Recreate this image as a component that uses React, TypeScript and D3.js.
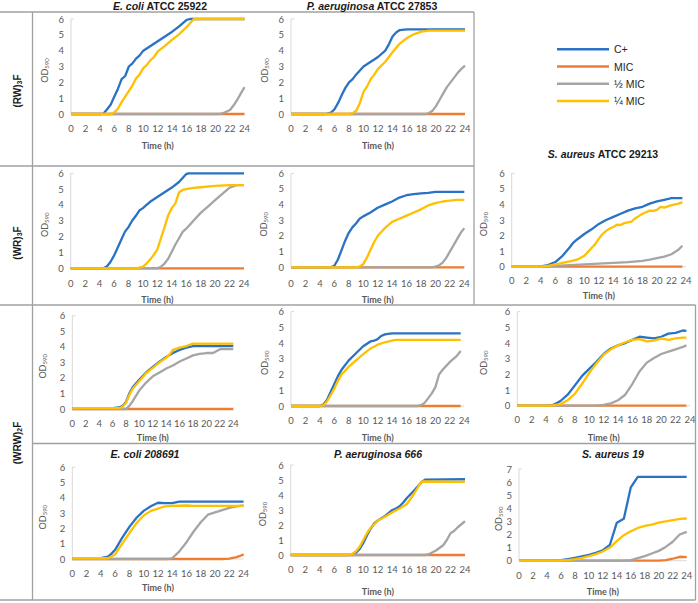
import React, { useRef, useEffect } from "react";
import * as d3 from "d3";

type Pt = [number, number];

const seriesNames = ["C+", "MIC", "½ MIC", "¼ MIC"];
const seriesColors = ["#2a72c4", "#ED7D31", "#A5A5A5", "#FFC000"];
const hourTicks = [0, 2, 4, 6, 8, 10, 12, 14, 16, 18, 20, 22, 24];

// (RW)3F - E. coli ATCC 25922
const rwEcoliCplus: Pt[] = [[0, 0], [4, 0], [4.5, 0.03], [5, 0.3], [5.5, 0.6], [6, 1.1], [6.5, 1.6], [7, 2.2], [7.5, 2.4], [8, 3.0], [8.5, 3.2], [9, 3.5], [9.5, 3.7], [10, 4.0], [11, 4.3], [12, 4.6], [13, 4.9], [14, 5.2], [15, 5.55], [16, 5.95], [16.5, 6], [24, 6]];
const rwEcoliMic: Pt[] = [[0, 0], [24, 0]];
const rwEcoliHalf: Pt[] = [[0, 0], [20.5, 0], [21, 0.05], [22, 0.25], [22.5, 0.55], [23, 0.9], [23.5, 1.3], [24, 1.7]];
const rwEcoliQuarter: Pt[] = [[0, 0], [5.5, 0], [6, 0.1], [6.5, 0.35], [7, 0.75], [7.5, 1.1], [8, 1.45], [8.5, 1.8], [9, 2.25], [9.5, 2.5], [10, 2.9], [10.5, 3.1], [11, 3.4], [11.5, 3.6], [12, 3.95], [13, 4.3], [14, 4.7], [15, 5.05], [16, 5.5], [17, 6], [24, 6]];

// (RW)3F - P. aeruginosa ATCC 27853
const rwPaerCplus: Pt[] = [[0, 0], [4.5, 0], [5, 0.02], [5.5, 0.08], [6, 0.3], [6.5, 0.7], [7, 1.2], [7.5, 1.65], [8, 2.0], [8.5, 2.2], [9, 2.5], [9.5, 2.75], [10, 3.0], [11, 3.3], [12, 3.6], [13, 4.0], [13.5, 4.4], [14, 4.9], [14.5, 5.15], [15, 5.3], [16, 5.35], [24, 5.35]];
const rwPaerMic: Pt[] = [[0, 0], [24, 0]];
const rwPaerHalf: Pt[] = [[0, 0], [18.5, 0], [19, 0.05], [19.5, 0.2], [20, 0.5], [20.5, 0.9], [21, 1.3], [21.5, 1.7], [22, 2.0], [22.5, 2.3], [23, 2.6], [23.5, 2.85], [24, 3.05]];
const rwPaerQuarter: Pt[] = [[0, 0], [8, 0], [8.5, 0.05], [9, 0.2], [9.5, 0.7], [10, 1.4], [10.5, 1.75], [11, 2.2], [11.5, 2.5], [12, 2.85], [13, 3.3], [14, 3.9], [15, 4.45], [16, 4.8], [17, 5.05], [18, 5.2], [19, 5.27], [24, 5.27]];

// (WR)3F - E. coli ATCC 25922
const wrEcoliCplus: Pt[] = [[0, 0], [4.5, 0], [5, 0.12], [5.5, 0.4], [6, 0.8], [6.5, 1.3], [7, 1.8], [7.5, 2.3], [8, 2.6], [8.5, 3.0], [9, 3.3], [9.5, 3.65], [10, 3.8], [10.5, 4.0], [11, 4.2], [12, 4.5], [13, 4.8], [14, 5.1], [15, 5.45], [16, 5.95], [16.3, 6], [24, 6]];
const wrEcoliMic: Pt[] = [[0, 0], [24, 0]];
const wrEcoliHalf: Pt[] = [[0, 0], [12, 0], [12.5, 0.1], [13, 0.3], [13.5, 0.6], [14, 1.05], [14.5, 1.5], [15, 1.9], [15.5, 2.3], [16, 2.5], [17, 3.0], [18, 3.5], [19, 3.9], [20, 4.3], [21, 4.7], [22, 5.1], [23, 5.25], [24, 5.25]];
const wrEcoliQuarter: Pt[] = [[0, 0], [9.3, 0], [9.5, 0.05], [10, 0.1], [10.5, 0.3], [11, 0.55], [11.5, 0.85], [12, 1.2], [12.5, 1.9], [13, 2.6], [13.5, 3.35], [14, 3.8], [14.5, 4.1], [15, 4.8], [15.5, 4.95], [16, 5.0], [17, 5.08], [18, 5.12], [20, 5.2], [22, 5.25], [24, 5.25]];

// (WR)3F - P. aeruginosa ATCC 27853
const wrPaerCplus: Pt[] = [[0, 0], [5.5, 0], [6, 0.1], [6.5, 0.5], [7, 1.1], [7.5, 1.7], [8, 2.2], [8.5, 2.55], [9, 2.8], [9.5, 3.1], [10, 3.25], [11, 3.5], [12, 3.8], [13, 4.0], [14, 4.2], [15, 4.45], [16, 4.6], [17, 4.67], [18, 4.72], [19, 4.75], [20, 4.82], [24, 4.82]];
const wrPaerMic: Pt[] = [[0, 0], [24, 0]];
const wrPaerHalf: Pt[] = [[0, 0], [19.5, 0], [20, 0.05], [20.5, 0.12], [21, 0.3], [21.5, 0.6], [22, 1.0], [22.5, 1.4], [23, 1.8], [23.5, 2.2], [24, 2.5]];
const wrPaerQuarter: Pt[] = [[0, 0], [9, 0], [9.5, 0.05], [10, 0.2], [10.5, 0.6], [11, 1.1], [11.5, 1.6], [12, 2.0], [12.5, 2.25], [13, 2.5], [14, 2.9], [15, 3.1], [16, 3.3], [17, 3.5], [18, 3.7], [19, 3.95], [20, 4.1], [21, 4.2], [22, 4.25], [23, 4.3], [24, 4.3]];

// (WR)3F - S. aureus ATCC 29213
const wrSaurCplus: Pt[] = [[0, 0], [3, 0], [4, 0.02], [5, 0.1], [6, 0.3], [7, 0.7], [8, 1.25], [8.5, 1.55], [9, 1.75], [10, 2.1], [11, 2.4], [12, 2.75], [13, 3.0], [14, 3.2], [15, 3.4], [16, 3.6], [17, 3.75], [18, 3.85], [19, 4.05], [20, 4.2], [21, 4.3], [22, 4.4], [23.5, 4.4]];
const wrSaurMic: Pt[] = [[0, 0], [23.5, 0]];
const wrSaurHalf: Pt[] = [[0, 0], [4, 0], [6, 0.05], [8, 0.1], [10, 0.15], [12, 0.2], [14, 0.25], [16, 0.3], [18, 0.38], [19, 0.45], [20, 0.55], [21, 0.65], [22, 0.8], [23, 1.1], [23.5, 1.35]];
const wrSaurQuarter: Pt[] = [[0, 0], [4, 0], [5, 0.05], [6, 0.15], [7, 0.25], [8, 0.35], [9, 0.45], [10, 0.7], [11, 1.2], [11.5, 1.45], [12, 1.8], [12.5, 2.1], [13, 2.3], [13.5, 2.45], [14, 2.55], [14.5, 2.7], [15, 2.68], [15.5, 2.8], [16, 2.85], [16.5, 2.9], [17, 3.1], [17.5, 3.25], [18, 3.4], [18.5, 3.5], [19, 3.6], [19.5, 3.58], [20, 3.65], [20.5, 3.85], [21, 3.8], [22, 3.95], [23, 4.05], [23.5, 4.15]];

// (WRW)2F - E. coli ATCC 25922
const wrwEcoliCplus: Pt[] = [[0, 0.05], [6, 0.05], [7, 0.1], [7.5, 0.2], [8, 0.45], [8.5, 1.0], [9, 1.4], [10, 1.9], [11, 2.35], [12, 2.7], [13, 3.05], [14, 3.35], [15, 3.6], [16, 3.8], [17, 3.95], [18, 4.05], [24, 4.05]];
const wrwEcoliMic: Pt[] = [[0, 0], [24, 0]];
const wrwEcoliHalf: Pt[] = [[0, 0], [8, 0], [8.5, 0.2], [9, 0.5], [10, 1.2], [11, 1.7], [12, 2.1], [13, 2.35], [14, 2.6], [15, 2.8], [16, 3.05], [17, 3.25], [18, 3.45], [19, 3.55], [20, 3.6], [21, 3.6], [22, 3.85], [24, 3.85]];
const wrwEcoliQuarter: Pt[] = [[0, 0.05], [7, 0.05], [7.5, 0.15], [8, 0.4], [8.5, 0.9], [9, 1.3], [10, 1.8], [11, 2.3], [12, 2.65], [13, 3.0], [14, 3.3], [14.5, 3.5], [15, 3.8], [16, 3.95], [17, 4.05], [18, 4.2], [24, 4.2]];

// (WRW)2F - P. aeruginosa ATCC 27853
const wrwPaerCplus: Pt[] = [[0, 0], [4, 0], [4.5, 0.1], [5, 0.4], [5.5, 0.9], [6, 1.4], [6.5, 1.9], [7, 2.3], [8, 2.9], [9, 3.35], [10, 3.8], [11, 4.1], [11.5, 4.15], [12, 4.25], [12.5, 4.45], [13, 4.55], [14, 4.62], [23.5, 4.62]];
const wrwPaerMic: Pt[] = [[0, 0], [23.5, 0]];
const wrwPaerHalf: Pt[] = [[0, 0], [17.5, 0], [18, 0.05], [18.5, 0.2], [19, 0.5], [19.5, 0.8], [20, 1.2], [20.5, 2.0], [21, 2.3], [21.5, 2.55], [22, 2.8], [22.5, 3.0], [23, 3.2], [23.5, 3.5]];
const wrwPaerQuarter: Pt[] = [[0, 0], [4, 0], [4.5, 0.05], [5, 0.3], [5.5, 0.7], [6, 1.1], [6.5, 1.6], [7, 2.0], [8, 2.5], [9, 2.9], [10, 3.3], [11, 3.65], [12, 3.9], [13, 4.05], [14, 4.15], [14.5, 4.2], [23.5, 4.2]];

// (WRW)2F - S. aureus ATCC 29213
const wrwSaurCplus: Pt[] = [[0, 0], [4, 0], [5, 0.05], [6, 0.3], [7, 0.7], [8, 1.3], [9, 1.9], [10, 2.35], [11, 2.8], [12, 3.3], [13, 3.65], [14, 3.85], [15, 4.0], [16, 4.2], [17, 4.4], [18, 4.35], [19, 4.3], [20, 4.4], [21, 4.6], [22, 4.65], [23, 4.8], [23.5, 4.78]];
const wrwSaurMic: Pt[] = [[0, 0], [23.5, 0]];
const wrwSaurHalf: Pt[] = [[0, 0], [11, 0], [12, 0.05], [13, 0.15], [14, 0.35], [15, 0.7], [16, 1.4], [17, 2.2], [18, 2.75], [19, 3.05], [20, 3.3], [21, 3.45], [22, 3.6], [23, 3.75], [23.5, 3.85]];
const wrwSaurQuarter: Pt[] = [[0, 0], [4.5, 0], [5, 0.02], [6, 0.1], [7, 0.35], [8, 0.75], [9, 1.4], [10, 2.1], [11, 2.7], [12, 3.25], [13, 3.6], [14, 3.85], [15, 4.05], [16, 4.2], [17, 4.25], [18, 4.1], [19, 4.15], [20, 4.3], [21, 4.2], [22, 4.3], [23, 4.35], [23.5, 4.35]];

// (WRW)2F - E. coli 208691
const ec208Cplus: Pt[] = [[0, 0.05], [4, 0.05], [5, 0.15], [5.5, 0.35], [6, 0.6], [7, 1.4], [8, 2.1], [9, 2.7], [10, 3.15], [11, 3.45], [12, 3.68], [13, 3.65], [14, 3.65], [15, 3.75], [24, 3.75]];
const ec208Mic: Pt[] = [[0, 0], [21, 0], [22, 0.03], [23, 0.12], [23.5, 0.2], [24, 0.3]];
const ec208Half: Pt[] = [[0, 0], [13.5, 0], [14, 0.05], [15, 0.5], [16, 1.1], [17, 1.8], [18, 2.4], [19, 2.9], [20, 3.05], [21, 3.2], [22, 3.35], [23, 3.45], [24, 3.5]];
const ec208Quarter: Pt[] = [[0, 0.05], [5, 0.05], [6, 0.3], [7, 1.0], [8, 1.7], [9, 2.35], [10, 2.85], [11, 3.15], [12, 3.3], [13, 3.45], [14, 3.48], [16, 3.5], [17, 3.48], [24, 3.48]];

// (WRW)2F - P. aeruginosa 666
const pa666Cplus: Pt[] = [[0, 0], [8, 0], [8.5, 0.05], [9, 0.15], [9.5, 0.4], [10, 0.8], [10.5, 1.3], [11, 1.75], [11.5, 2.1], [12, 2.3], [12.5, 2.45], [13, 2.6], [14, 3.0], [14.5, 3.1], [15, 3.25], [15.5, 3.5], [16, 3.8], [17, 4.3], [18, 4.85], [18.5, 5.02], [24, 5.05]];
const pa666Mic: Pt[] = [[0, 0], [24, 0]];
const pa666Half: Pt[] = [[0, 0], [18.5, 0], [19, 0.05], [20, 0.3], [21, 0.65], [21.5, 1.0], [22, 1.45], [22.5, 1.6], [23, 1.85], [24, 2.25]];
const pa666Quarter: Pt[] = [[0, 0], [7.5, 0], [8, 0.02], [8.5, 0.08], [9, 0.25], [9.5, 0.55], [10, 1.0], [10.5, 1.45], [11, 1.8], [11.5, 2.05], [12, 2.3], [13, 2.55], [14, 2.85], [15, 3.1], [16, 3.4], [17, 4.1], [17.5, 4.5], [18, 4.9], [24, 4.88]];

// (WRW)2F - S. aureus 19
const sa19Cplus: Pt[] = [[0, 0], [5, 0], [6, 0.05], [7, 0.12], [8, 0.22], [9, 0.33], [10, 0.45], [11, 0.6], [12, 0.8], [13, 1.2], [14, 2.9], [15, 3.2], [16, 5.6], [17, 6.4], [24, 6.4]];
const sa19Mic: Pt[] = [[0, 0], [20, 0], [21, 0.05], [22, 0.15], [23, 0.3], [24, 0.28]];
const sa19Half: Pt[] = [[0, 0], [15, 0], [16, 0.05], [17, 0.2], [18, 0.35], [19, 0.55], [20, 0.75], [21, 1.05], [22, 1.45], [23, 2.0], [24, 2.2]];
const sa19Quarter: Pt[] = [[0, 0], [6, 0], [7, 0.05], [8, 0.12], [9, 0.22], [10, 0.35], [11, 0.5], [12, 0.7], [13, 1.0], [14, 1.5], [15, 1.95], [16, 2.25], [17, 2.5], [18, 2.65], [19, 2.75], [20, 2.9], [21, 3.0], [22, 3.1], [23, 3.2], [24, 3.22]];

const panels = [
  { x0: 71, x1: 244.5, y0: 114, y1: 19, yMax: 6, tickY: 128, timeY: 145, labX: 44, title: ["E. coli", " ATCC 25922"], titleX: 160, titleY: 6,
    series: [rwEcoliCplus, rwEcoliMic, rwEcoliHalf, rwEcoliQuarter] },
  { x0: 291, x1: 465, y0: 114, y1: 19, yMax: 6, tickY: 128, timeY: 145, labX: 263.5, title: ["P. aeruginosa", " ATCC 27853"], titleX: 372, titleY: 6,
    series: [rwPaerCplus, rwPaerMic, rwPaerHalf, rwPaerQuarter] },
  { x0: 70.7, x1: 244, y0: 268.3, y1: 173.3, yMax: 6, tickY: 283, timeY: 299, labX: 44,
    series: [wrEcoliCplus, wrEcoliMic, wrEcoliHalf, wrEcoliQuarter] },
  { x0: 291, x1: 464.3, y0: 267.3, y1: 173.3, yMax: 6, tickY: 283, timeY: 299, labX: 263,
    series: [wrPaerCplus, wrPaerMic, wrPaerHalf, wrPaerQuarter] },
  { x0: 511.7, x1: 686, y0: 266.7, y1: 173.3, yMax: 6, tickY: 280.7, timeY: 295.7, labX: 482.7, title: ["S. aureus", " ATCC 29213"], titleX: 603, titleY: 154,
    series: [wrSaurCplus, wrSaurMic, wrSaurHalf, wrSaurQuarter] },
  { x0: 72.3, x1: 233.3, y0: 409, y1: 315.7, yMax: 6, tickY: 423.3, timeY: 437.7, labX: 41.7,
    series: [wrwEcoliCplus, wrwEcoliMic, wrwEcoliHalf, wrwEcoliQuarter] },
  { x0: 291, x1: 464.3, y0: 406, y1: 311.6, yMax: 6, tickY: 420, timeY: 437.3, labX: 264,
    series: [wrwPaerCplus, wrwPaerMic, wrwPaerHalf, wrwPaerQuarter] },
  { x0: 517.3, x1: 690, y0: 405.7, y1: 311.7, yMax: 6, tickY: 419, timeY: 437.3, labX: 482.5,
    series: [wrwSaurCplus, wrwSaurMic, wrwSaurHalf, wrwSaurQuarter] },
  { x0: 72.3, x1: 243.6, y0: 559, y1: 467.3, yMax: 6, tickY: 573.3, timeY: 587.7, labX: 41.7, title: ["E. coli 208691", ""], titleX: 145, titleY: 454,
    series: [ec208Cplus, ec208Mic, ec208Half, ec208Quarter] },
  { x0: 290.7, x1: 465, y0: 555, y1: 465, yMax: 6, tickY: 569, timeY: 591, labX: 262, title: ["P. aeruginosa 666", ""], titleX: 378, titleY: 454,
    series: [pa666Cplus, pa666Mic, pa666Half, pa666Quarter] },
  { x0: 519, x1: 686.7, y0: 560.7, y1: 469, yMax: 7, tickY: 575.7, timeY: 591, labX: 498, title: ["S. aureus 19", ""], titleX: 613, titleY: 454,
    series: [sa19Cplus, sa19Mic, sa19Half, sa19Quarter] },
];

const rowLabels = [
  { main: "(RW)", sub: "3", end: "F", y: 91 },
  { main: "(WR)", sub: "3", end: "F", y: 243 },
  { main: "(WRW)", sub: "2", end: "F", y: 443 },
];

const frameLines = [
  [0, 12, 474, 12], [474, 12, 474, 305], [32.5, 12, 32.5, 600], [0, 166, 474, 166],
  [0, 305, 695.5, 305], [695.5, 305, 695.5, 600], [32.5, 443.5, 695.5, 443.5], [0, 600, 695.5, 600],
];

const axisFont = "Lato, 'Open Sans', sans-serif";
const titleFont = "'Liberation Sans', Arial, sans-serif";

export default function App() {
  const svgRef = useRef<SVGSVGElement>(null);

  useEffect(() => {
    const svg = d3.select(svgRef.current);
    svg.selectAll("*").remove();

    svg.append("rect").attr("width", 698).attr("height", 603).attr("fill", "white");

    // frame
    svg.selectAll("line.frame").data(frameLines).enter().append("line")
      .attr("class", "frame")
      .attr("x1", (d) => d[0]).attr("y1", (d) => d[1])
      .attr("x2", (d) => d[2]).attr("y2", (d) => d[3])
      .attr("stroke", "#a0a0a0").attr("stroke-width", 1.3);

    // row labels
    rowLabels.forEach((r) => {
      const t = svg.append("text")
        .attr("transform", `translate(16.5,${r.y}) rotate(-90)`)
        .attr("text-anchor", "middle").attr("dominant-baseline", "central")
        .attr("font-family", titleFont).attr("font-weight", "bold")
        .attr("font-size", 10).attr("fill", "#1a1a1a");
      t.append("tspan").text(r.main);
      t.append("tspan").attr("font-size", 7).attr("dy", 2).text(r.sub);
      t.append("tspan").attr("dy", -2).text(r.end);
    });

    panels.forEach((p) => {
      const x = d3.scaleLinear().domain([0, 24]).range([p.x0, p.x1]);
      const y = d3.scaleLinear().domain([0, p.yMax]).range([p.y0, p.y1]);
      const g = svg.append("g");

      // axes
      g.append("line").attr("x1", p.x0).attr("x2", p.x0).attr("y1", y(0)).attr("y2", y(p.yMax))
        .attr("stroke", "#d9d9d9").attr("stroke-width", 1);
      g.append("line").attr("x1", p.x0).attr("x2", p.x0 + 3).attr("y1", y(p.yMax)).attr("y2", y(p.yMax))
        .attr("stroke", "#d9d9d9").attr("stroke-width", 1);
      g.append("line").attr("x1", p.x0).attr("x2", p.x1).attr("y1", y(0)).attr("y2", y(0))
        .attr("stroke", "#d9d9d9").attr("stroke-width", 1);

      g.selectAll("text.yt").data(d3.range(0, p.yMax + 1)).enter().append("text")
        .attr("class", "yt")
        .attr("x", p.x0 - 7).attr("y", (d) => y(d))
        .attr("text-anchor", "end").attr("dominant-baseline", "central")
        .attr("font-family", axisFont).attr("font-size", 9.5).attr("fill", "#595959")
        .text((d) => d);

      g.selectAll("text.xt").data(hourTicks).enter().append("text")
        .attr("class", "xt")
        .attr("x", (d) => x(d)).attr("y", p.tickY)
        .attr("text-anchor", "middle").attr("dominant-baseline", "central")
        .attr("font-family", axisFont).attr("font-size", 9.5).attr("fill", "#595959")
        .text((d) => d);

      g.append("text")
        .attr("x", (p.x0 + p.x1) / 2).attr("y", p.timeY)
        .attr("text-anchor", "middle").attr("dominant-baseline", "central")
        .attr("font-family", axisFont).attr("font-weight", "bold")
        .attr("font-size", 9).attr("fill", "#595959")
        .text("Time (h)");

      const od = g.append("text")
        .attr("transform", `translate(${p.labX},${(p.y0 + p.y1) / 2 + 4}) rotate(-90)`)
        .attr("text-anchor", "middle").attr("dominant-baseline", "central")
        .attr("font-family", axisFont).attr("font-size", 9).attr("fill", "#595959");
      od.append("tspan").text("OD");
      od.append("tspan").attr("font-size", 6).attr("dy", 2).text("590");

      if (p.title) {
        const t = g.append("text")
          .attr("x", p.titleX).attr("y", p.titleY)
          .attr("text-anchor", "middle").attr("dominant-baseline", "central")
          .attr("font-family", titleFont).attr("font-weight", "bold")
          .attr("font-size", 10.5).attr("fill", "#1a1a1a");
        t.append("tspan").attr("font-style", "italic").text(p.title[0]);
        if (p.title[1]) t.append("tspan").text(p.title[1]);
      }

      const line = d3.line<Pt>().x((d) => x(d[0])).y((d) => y(d[1]));
      p.series.forEach((s, i) => {
        g.append("path").datum(s)
          .attr("fill", "none")
          .attr("stroke", seriesColors[i])
          .attr("stroke-width", 2.3)
          .attr("stroke-linejoin", "round")
          .attr("d", line);
      });
    });

    // legend
    const legY = d3.scalePoint<string>().domain(seriesNames).range([49.3, 101]);
    const leg = svg.append("g");
    seriesNames.forEach((name, i) => {
      leg.append("line").attr("x1", 557).attr("x2", 609)
        .attr("y1", legY(name)!).attr("y2", legY(name)!)
        .attr("stroke", seriesColors[i]).attr("stroke-width", 2.5);
      leg.append("text").attr("x", 614).attr("y", legY(name)!)
        .attr("dominant-baseline", "central")
        .attr("font-family", titleFont).attr("font-size", 10.5).attr("fill", "#262626")
        .text(name);
    });
  }, []);

  return (
    <svg ref={svgRef} width={698} height={603}
      style={{ position: "absolute", left: 0, top: 0, display: "block" }} />
  );
}
